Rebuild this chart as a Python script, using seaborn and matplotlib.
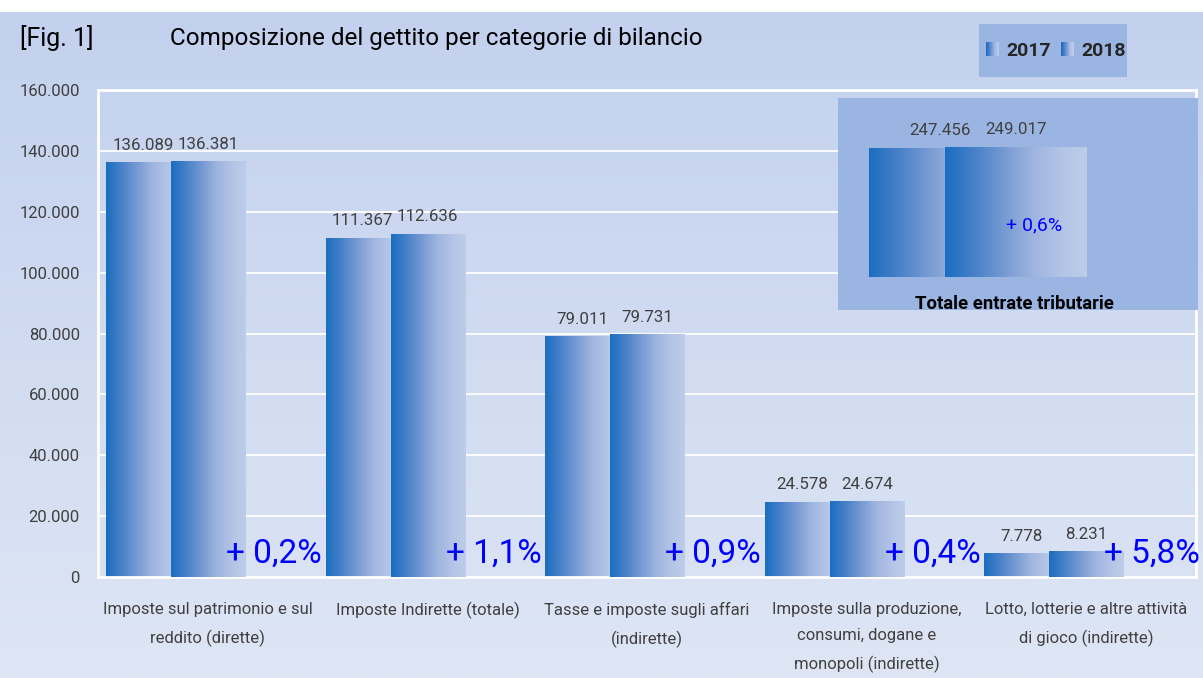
import numpy as np
import pandas as pd
import seaborn as sns
import matplotlib.pyplot as plt
from matplotlib.colors import LinearSegmentedColormap
from matplotlib.legend_handler import HandlerBase
from matplotlib.patches import Rectangle

# dati
categorie = [
    "Imposte sul patrimonio e sul\nreddito (dirette)",
    "Imposte Indirette (totale)",
    "Tasse e imposte sugli affari\n(indirette)",
    "Imposte sulla produzione,\nconsumi, dogane e\nmonopoli (indirette)",
    "Lotto, lotterie e altre attività\ndi gioco (indirette)",
]
anni = ["2017", "2018"]
valori_2017 = [136089, 111367, 79011, 24578, 7778]
valori_2018 = [136381, 112636, 79731, 24674, 8231]
totale_2017 = 247456
totale_2018 = 249017
y_ticks = [0, 20000, 40000, 60000, 80000, 100000, 120000, 140000, 160000]

W, H = 1203, 678
GRIGIO = "#404040"
BLU = "#0000ff"
BOX = "#9bb5e3"

sns.set_theme(style="white")
plt.rcParams["font.family"] = ["Roboto", "DejaVu Sans"]

cmap_barra = LinearSegmentedColormap.from_list(
    "barra", [(0, "#1a6ec0"), (0.2, "#4680c8"), (0.4, "#7398d2"),
              (0.62, "#9fb5df"), (0.85, "#b5c6e7"), (1, "#bdcce9")])
cmap_sfondo = LinearSegmentedColormap.from_list("sfondo", ["#c3d1ee", "#dee6f5"])
gradiente = np.linspace(0, 1, 256).reshape(1, -1)


def fx(px):
    return px / W


def fy(py):
    return 1 - py / H


def fmt(v):
    return f"{v:,}".replace(",", ".")


def pct(a, b):
    return "+ " + f"{(b / a - 1) * 100:.1f}".replace(".", ",") + "%"


class HandlerGradiente(HandlerBase):
    def create_artists(self, legend, orig_handle, xdescent, ydescent,
                       width, height, fontsize, trans):
        n = 14
        return [Rectangle((-xdescent + width * j / n, -ydescent), width / n * 1.05, height,
                          facecolor=cmap_barra(j / (n - 1)), edgecolor="none", transform=trans)
                for j in range(n)]


def barre_gradiente(ax, spost, larg):
    # sostituisce le barre di seaborn con un riempimento sfumato
    for k, cont in enumerate(ax.containers):
        for bar in cont:
            x0 = bar.get_x() + spost
            h = bar.get_height()
            ax.imshow(gradiente, cmap=cmap_barra, extent=[x0, x0 + larg, 0, h],
                      aspect="auto", zorder=2 + k, interpolation="bilinear")
            bar.set_visible(False)
            ax.annotate(fmt(int(h)), (x0 + larg / 2, h), xytext=(0, 7),
                        textcoords="offset points", ha="center", va="bottom",
                        fontsize=12.2, color=GRIGIO, zorder=6)


fig = plt.figure(figsize=(W / 100, H / 100), dpi=100, facecolor="white")

bg = fig.add_axes([0, 0, 1, fy(12)], zorder=-5)
bg.imshow(np.linspace(0, 1, 256).reshape(-1, 1), cmap=cmap_sfondo, aspect="auto",
          extent=[0, 1, 0, 1])
bg.axis("off")

# grafico principale
df = pd.DataFrame({
    "categoria": categorie * 2,
    "anno": ["2017"] * len(categorie) + ["2018"] * len(categorie),
    "valore": valori_2017 + valori_2018,
})
ax = fig.add_axes([fx(98), fy(577), fx(1196 - 98), (577 - 90) / H])
ax.set_facecolor("none")
passo = 0.296
sns.barplot(data=df, x="categoria", y="valore", hue="anno", order=categorie,
            hue_order=anni, width=2 * passo, dodge=True, errorbar=None,
            legend=False, ax=ax)
barre_gradiente(ax, spost=-0.1676, larg=0.337)

for i in range(len(categorie)):
    ax.annotate(pct(valori_2017[i], valori_2018[i]), (i + 0.5, 0), xytext=(3, 10),
                textcoords="offset points", ha="right", va="baseline",
                fontsize=24, color=BLU, zorder=7, annotation_clip=False)

ax.set_xlim(-0.5, len(categorie) - 0.5)
ax.set_ylim(0, 160000)
ax.set_yticks(y_ticks)
ax.set_yticklabels([fmt(v) for v in y_ticks])
ax.set_xticks(range(len(categorie)))
ax.set_xticklabels(categorie, linespacing=1.95)
ax.tick_params(axis="y", length=0, pad=13, labelsize=12, labelcolor=GRIGIO)
ax.tick_params(axis="x", length=0, pad=18, labelsize=12, labelcolor=GRIGIO)
ax.set_xlabel("")
ax.set_ylabel("")
ax.yaxis.grid(True, color="white", lw=1.3)
ax.set_axisbelow(True)
for s in ax.spines.values():
    s.set_color("white")
    s.set_linewidth(2)

# titolo
fig.text(fx(20), fy(38), "[Fig. 1]", fontsize=18, va="center", color="black")
fig.text(fx(170), fy(38), "Composizione del gettito per categorie di bilancio",
         fontsize=17.5, va="center", color="black")

# legenda
fig.add_artist(Rectangle((fx(979), fy(77)), fx(148), (77 - 24) / H,
                         transform=fig.transFigure, facecolor=BOX, edgecolor="none", zorder=1))
handles = [Rectangle((0, 0), 1, 1, label=a) for a in anni]
fig.legend(handles, anni, handler_map={Rectangle: HandlerGradiente()}, loc="center",
           bbox_to_anchor=(fx(1056), fy(51)), ncol=2, frameon=False,
           prop={"weight": "bold", "size": 14}, handlelength=0.67, handleheight=0.72,
           handletextpad=0.36, columnspacing=0.52, borderaxespad=0)

# riquadro totale
fig.add_artist(Rectangle((fx(838), fy(310)), fx(360), (310 - 98) / H,
                         transform=fig.transFigure, facecolor=BOX, edgecolor="none", zorder=1))
axi = fig.add_axes([fx(838), fy(310), fx(360), (310 - 98) / H], zorder=2)
axi.set_facecolor("none")
df_tot = pd.DataFrame({"anno": anni, "valore": [totale_2017, totale_2018]})
sns.barplot(data=df_tot, x="anno", y="valore", hue="anno", width=1.0,
            errorbar=None, legend=False, ax=axi)
barre_gradiente(axi, spost=0.0, larg=1.868)
axi.annotate(pct(totale_2017, totale_2018), (0.5 + 0.63 * 1.868, totale_2018 * 0.4),
             ha="center", va="center", fontsize=14, color=BLU, zorder=7)
axi.set_xlim(-0.908, 3.829)
axi.set_ylim(-63300, 343400)
axi.axis("off")
fig.text(fx(1014), fy(309), "Totale entrate tributarie", fontsize=13.3, weight="bold",
         ha="center", va="baseline", color="black", zorder=3)

fig.savefig("out.png", dpi=100, facecolor="white")
